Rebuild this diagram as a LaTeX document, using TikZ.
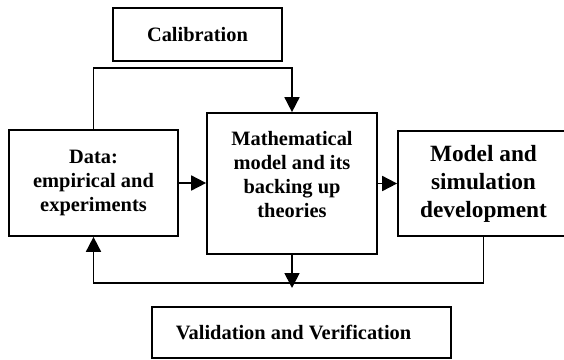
\documentclass[tikz,border=0pt]{standalone}
\usepackage{fontspec}
\setmainfont{Liberation Serif}
\usetikzlibrary{arrows.meta}
\begin{document}
\begin{tikzpicture}[x=1pt,y=-1pt,
  every node/.style={font=\bfseries\fontsize{20.4}{24}\selectfont},
  boxnode/.style={draw, line width=1.7pt, inner sep=0pt, align=center},
  txt/.style={inner sep=0pt, align=center},
  arr/.style={line width=1.7pt, -{Triangle[length=15pt,width=15pt]}},
  conn/.style={line width=1.7pt}]
\useasboundingbox (0,0) rectangle (564,359);
\clip (0,0) rectangle (564,359);
\node[boxnode, minimum width=169pt, minimum height=53pt] (cal) at (197.5,34.5) {Calibration};
\node[boxnode, minimum width=169pt, minimum height=106pt] (data) at (93.5,183) {Data:\\empirical and\\experiments};
\node[boxnode, minimum width=170pt, minimum height=141pt] (math) at (292,183.5) {};
\node[txt] (mathtext) at (292,175) {Mathematical\\model and its\\backing up\\theories};
\node[boxnode, minimum width=171pt, minimum height=105pt,
      font=\bfseries\fontsize{23.3}{28}\selectfont] (model) at (483.5,183.5) {Model and\\simulation\\development};
\node[boxnode, minimum width=299pt, minimum height=51pt] (val) at (301.5,332.5) {};
\node[txt] (valtext) at (293.5,332) {Validation and Verification};
\coordinate (cl) at (93.5,68);
\coordinate (bl) at (93.5,283);
\coordinate (mtip) at (292,288);
\draw[arr] (data.north) |- (cl) -| (math.north);
\draw[arr] (data.east) -- (math.west |- data.east);
\draw[arr] (math.east) -- (model.west |- math.east);
\draw[arr] (model.south) |- (bl) -- (data.south);
\draw[arr] (math.south) -- (mtip);
\end{tikzpicture}
\end{document}
